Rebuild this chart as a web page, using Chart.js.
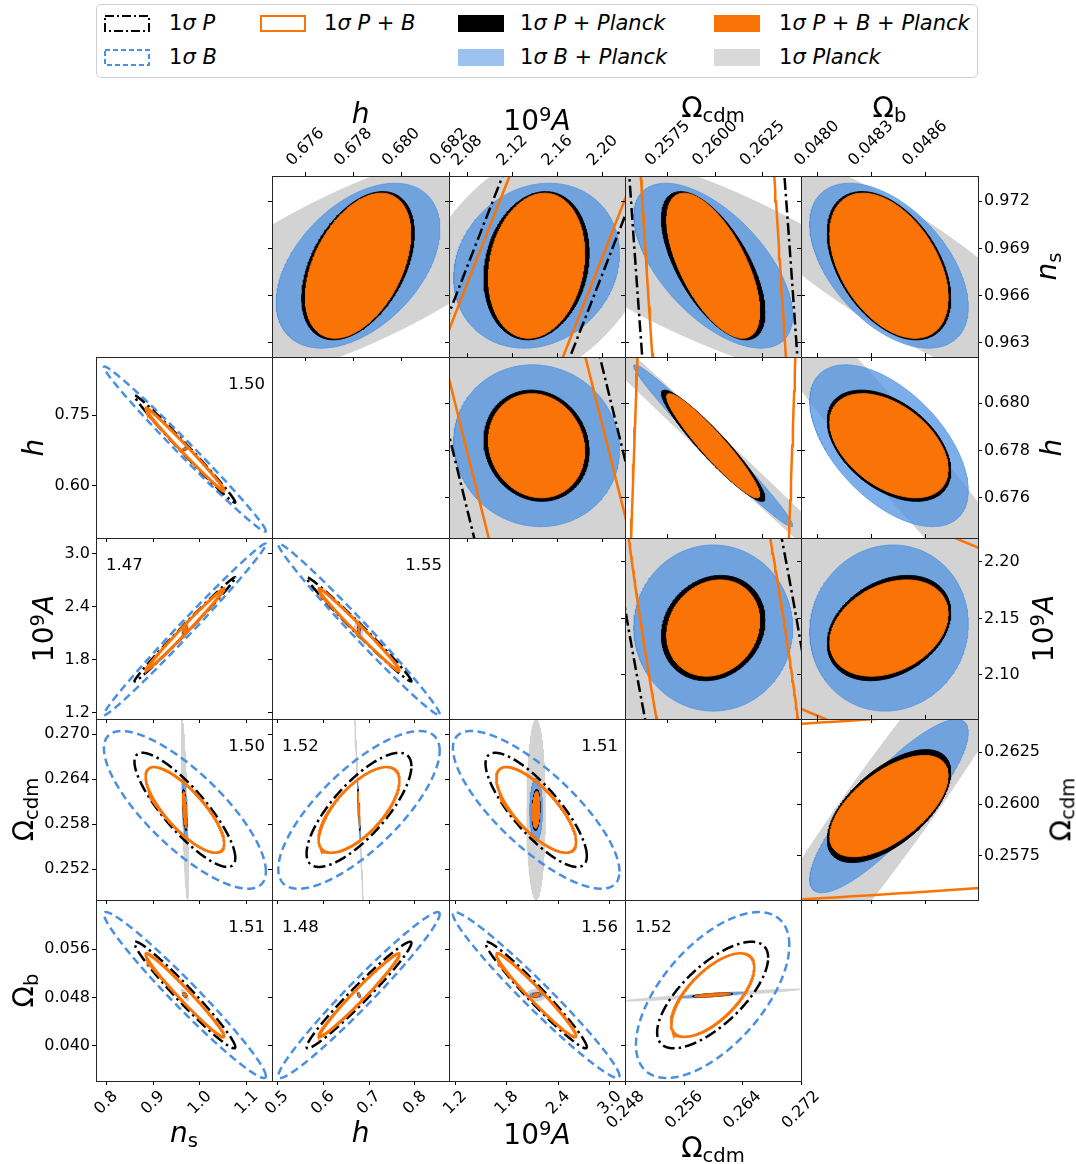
<!DOCTYPE html>
<html>
<head>
<meta charset="utf-8">
<title>Fisher forecast triangle</title>
<script src="https://cdn.jsdelivr.net/npm/chart.js@4.4.1/dist/chart.umd.min.js"></script>
<style>
  html, body { margin: 0; padding: 0; background: #fff; }
  body { width: 1076px; height: 1164px; position: relative; overflow: hidden;
         font-family: "DejaVu Sans", sans-serif; color: #000; }
  canvas.panel { position: absolute; }
  .lbl { position: absolute; left: 0; top: 0; white-space: nowrap; line-height: 1; transform-origin: 0 0; }
  .lbl sub, .lbl sup { font-size: 70%; line-height: 0; }
  .lbl sub { vertical-align: -0.22em; }
  .lbl sup { vertical-align: 0.5em; }
  #legend { position: absolute; left: 96px; top: 4px; width: 880px; height: 72px;
            border: 1px solid #cfcfcf; border-radius: 5px; background: #fff; }
  svg.sw { position: absolute; }
</style>
</head>
<body>
<div id="legend"></div>
<script>
Chart.defaults.font.family = '"DejaVu Sans", sans-serif';

// ---------------- data ----------------
// parameter order: n_s, h, 10^9 A, Omega_cdm, Omega_b
const FIDUCIAL = [0.9679, 0.6782, 2.1415, 0.2599, 0.0484];

// half-widths of the 1-sigma contours, per parameter
const SIGMA_P    = [0.1077, 0.114, 0.59, 0.0076, 0.0088];
const SIGMA_B    = [0.173, 0.1755, 0.97, 0.0105, 0.0137];
const SIGMA_PB   = [0.084, 0.088, 0.465, 0.0057, 0.0069];
const SIGMA_PL   = [0.0078, 0.009, 0.107, 0.012, 0.001];
const SIGMA_BPL  = [0.00523, 0.00342, 0.0735, 0.00419, 0.00044];
const SIGMA_PPL  = [0.0047, 0.00235, 0.0466, 0.00273, 0.000343];
const SIGMA_PBPL = [0.0046, 0.0022, 0.0426, 0.00245, 0.000328];

// correlation coefficients for each parameter pair
const PAIRS    = [[0,1],[0,2],[0,3],[0,4],[1,2],[1,3],[1,4],[2,3],[2,4],[3,4]];
const RHO_P    = [-0.993, 0.9946, -0.842, -0.975, -0.9918, 0.764, 0.975, -0.808, -0.975, 0.70];
const RHO_B    = [-0.992, 0.993, -0.78, -0.975, -0.99, 0.75, 0.975, -0.78, -0.975, 0.60];
const RHO_PB   = [-0.992, 0.9929, -0.785, -0.98, -0.9908, 0.682, 0.98, -0.747, -0.9747, 0.666];
const RHO_PL   = [0.734, 0.36, -0.74, -0.837, -0.2, -0.9968, -0.97, 0.0, 0.0, 0.958];
const RHO_BPL  = [0.45, 0.15, -0.60, -0.50, -0.05, -0.984, -0.55, 0.0, 0.05, 0.85];
const RHO_PPL  = [0.44, 0.17, -0.63, -0.44, -0.10, -0.94, -0.45, 0.15, 0.30, 0.60];
const RHO_PBPL = [0.44, 0.17, -0.63, -0.44, -0.10, -0.94, -0.45, 0.15, 0.30, 0.60];

// axis limits
const LOWER_LIMITS   = [[0.778, 1.154], [0.489, 0.874], [1.126, 3.176], [0.2479, 0.2720], [0.0342, 0.0641]];
const UPPER_X_LIMITS = [null, [0.6746, 0.6820], [2.0638, 2.2199], [0.25524, 0.26453], [0.047911, 0.048894]];
const UPPER_Y_LIMITS = [[0.96211, 0.97359], [0.6743, 0.68195], [2.061, 2.2212], [0.25536, 0.26411], null];

// tick labels
const LOWER_X_TICKS = [['0.8','0.9','1.0','1.1'], ['0.5','0.6','0.7','0.8'], ['1.2','1.8','2.4','3.0'], ['0.248','0.256','0.264','0.272'], null];
const LOWER_Y_TICKS = [null, ['0.60','0.75'], ['1.2','1.8','2.4','3.0'], ['0.252','0.258','0.264','0.270'], ['0.040','0.048','0.056']];
const UPPER_X_TICKS = [null, ['0.676','0.678','0.680','0.682'], ['2.08','2.12','2.16','2.20'], ['0.2575','0.2600','0.2625'], ['0.0480','0.0483','0.0486']];
const UPPER_Y_TICKS = [['0.963','0.966','0.969','0.972'], ['0.676','0.678','0.680'], ['2.10','2.15','2.20'], ['0.2575','0.2600','0.2625'], null];

// number printed in each lower panel: [text, row, col, corner]
const RATIO_LABELS = [['1.50',1,0,'r'], ['1.47',2,0,'l'], ['1.55',2,1,'r'], ['1.50',3,0,'r'], ['1.52',3,1,'l'],
                      ['1.51',3,2,'r'], ['1.51',4,0,'r'], ['1.48',4,1,'l'], ['1.56',4,2,'r'], ['1.52',4,3,'l']];

const PARAM_TITLES = ['<i>n</i><sub>s</sub>', '<i>h</i>', '10<sup>9</sup><i>A</i>', 'Ω<sub>cdm</sub>', 'Ω<sub>b</sub>'];

// ---------------- styling / layout ----------------
const ORANGE = '#f97306';
const BLUE = '#4a90e2';
const BLUE_FILL = 'rgba(74,144,226,0.72)';
const GRAY_FILL = '#d3d3d3';
const DASH_DOT = [12, 4, 2.5, 4];
const DASHED = [8, 4.5];

const COL_EDGES = [96, 272, 449, 625, 801, 978];
const ROW_EDGES = [176, 357, 538, 719, 900, 1081];
const M = 80;            // canvas margin around every panel (room for ticks and labels)
const TICK_FONT = 16;
const LINE_H = TICK_FONT * 1.2;

const measureCtx = document.createElement('canvas').getContext('2d');
measureCtx.font = TICK_FONT + 'px "DejaVu Sans"';
const textWidth = s => measureCtx.measureText(s).width;

function pairIndex(a, b) {
  const lo = Math.min(a, b), hi = Math.max(a, b);
  return PAIRS.findIndex(p => p[0] === lo && p[1] === hi);
}

// closed 1-sigma contour of a parameter pair (x = parameter px, y = parameter py)
function contour(px, py, sigma, rho, n) {
  const r = rho[pairIndex(px, py)];
  const sx = sigma[px], sy = sigma[py], cx = FIDUCIAL[px], cy = FIDUCIAL[py];
  const q = Math.sqrt(1 - r * r);
  const pts = [];
  for (let m = 0; m <= n; m++) {
    const t = 2 * Math.PI * m / n;
    pts.push({ x: cx + sx * Math.cos(t), y: cy + sy * (r * Math.cos(t) + q * Math.sin(t)) });
  }
  return pts;
}

function filled(pts, color) {
  return { data: pts, showLine: true, fill: 'shape', backgroundColor: color, borderColor: color,
           borderWidth: 1, pointRadius: 0, clip: 0, xAxisID: 'x', yAxisID: 'y' };
}
function outline(pts, color, width, dash) {
  return { data: pts, showLine: true, fill: false, borderColor: color, borderWidth: width, borderDash: dash,
           borderCapStyle: 'butt', pointRadius: 0, clip: 0, xAxisID: 'x', yAxisID: 'y' };
}

function buildAxis(pos, lim, tickLabels, drawMarks, showText, rotation) {
  const horizontal = pos === 'top' || pos === 'bottom';
  const labels = tickLabels || [];
  const vals = labels.map(Number);
  let labelOffset = 0;
  if (showText && rotation && labels.length) {
    const w = textWidth(labels[0]);
    labelOffset = pos === 'top' ? -0.354 * (w - 2 * LINE_H) : 0.354 * w;
  }
  return {
    type: 'linear', position: pos, min: lim[0], max: lim[1], bounds: 'data',
    afterBuildTicks: s => {
      s.ticks = vals.filter(v => v >= lim[0] - 1e-9 && v <= lim[1] + 1e-9).map(v => ({ value: v }));
    },
    afterFit: s => {
      if (horizontal) s.height = M; else s.width = M;
      s.paddingTop = s.paddingBottom = s.paddingLeft = s.paddingRight = 0;
    },
    grid: { display: true, drawOnChartArea: false, drawTicks: drawMarks, tickLength: 4, tickWidth: 1, tickColor: '#000' },
    border: { display: true, color: '#262626', width: 1, z: 1 },
    ticks: {
      display: showText, autoSkip: false, padding: 2, color: '#000', font: { size: TICK_FONT },
      minRotation: rotation, maxRotation: rotation, labelOffset,
      callback: v => { const k = vals.findIndex(u => Math.abs(u - v) < 1e-9); return k >= 0 ? labels[k] : ''; }
    }
  };
}

function makeChart(i, j, datasets, scales) {
  const x0 = COL_EDGES[j], x1 = COL_EDGES[j + 1], y0 = ROW_EDGES[i], y1 = ROW_EDGES[i + 1];
  const cv = document.createElement('canvas');
  cv.className = 'panel';
  cv.width = x1 - x0 + 2 * M;
  cv.height = y1 - y0 + 2 * M;
  cv.style.left = (x0 - M) + 'px';
  cv.style.top = (y0 - M) + 'px';
  document.body.appendChild(cv);
  new Chart(cv, {
    type: 'scatter',
    data: { datasets },
    options: {
      responsive: false, animation: false, devicePixelRatio: 1, events: [],
      layout: { padding: 0 },
      plugins: { legend: { display: false }, tooltip: { enabled: false } },
      scales
    }
  });
}

function contourPanel(i, j) {
  const lower = i > j;
  const px = j, py = i;
  const ds = [
    filled(contour(px, py, SIGMA_PL, RHO_PL, 360), GRAY_FILL),
    filled(contour(px, py, SIGMA_BPL, RHO_BPL, 360), BLUE_FILL),
    filled(contour(px, py, SIGMA_PPL, RHO_PPL, 360), '#000000'),
    filled(contour(px, py, SIGMA_PBPL, RHO_PBPL, 360), ORANGE)
  ];
  if (lower) ds.push(outline(contour(px, py, SIGMA_B, RHO_B, 720), BLUE, 2.5, DASHED));
  ds.push(outline(contour(px, py, SIGMA_P, RHO_P, 720), '#000000', 2.5, DASH_DOT));
  ds.push(outline(contour(px, py, SIGMA_PB, RHO_PB, 720), ORANGE, 2.5, []));
  ds.reverse();   // the first dataset is painted last (on top)

  let scales;
  if (lower) {
    scales = {
      x:  buildAxis('bottom', LOWER_LIMITS[j], LOWER_X_TICKS[j], true, i === 4, 45),
      x2: buildAxis('top', LOWER_LIMITS[j], [], false, false, 0),
      y:  buildAxis('left', LOWER_LIMITS[i], LOWER_Y_TICKS[i], true, j === 0, 0),
      y2: buildAxis('right', LOWER_LIMITS[i], [], false, false, 0)
    };
  } else {
    scales = {
      x:  buildAxis('bottom', UPPER_X_LIMITS[j], UPPER_X_TICKS[j], true, false, 0),
      x2: buildAxis('top', UPPER_X_LIMITS[j], UPPER_X_TICKS[j], true, i === 0, 45),
      y:  buildAxis('left', UPPER_Y_LIMITS[i], UPPER_Y_TICKS[i], true, false, 0),
      y2: buildAxis('right', UPPER_Y_LIMITS[i], UPPER_Y_TICKS[i], true, j === 4, 0)
    };
  }
  makeChart(i, j, ds, scales);
}

function emptyPanel(i) {
  const lim = [0, 1];
  makeChart(i, i, [], {
    x:  buildAxis('bottom', lim, [], false, false, 0),
    x2: buildAxis('top', lim, [], false, false, 0),
    y:  buildAxis('left', lim, [], false, false, 0),
    y2: buildAxis('right', lim, [], false, false, 0)
  });
}

for (let i = 0; i < 5; i++) {
  for (let j = 0; j < 5; j++) {
    if (i === j) { if (i >= 1 && i <= 3) emptyPanel(i); continue; }
    contourPanel(i, j);
  }
}

// ---------------- text ----------------
// (x, y) is the baseline anchor; rotated labels read bottom-to-top
function addLabel(html, x, y, size, align, rotate, parent) {
  const d = document.createElement('div');
  d.className = 'lbl';
  d.style.fontSize = size + 'px';
  d.innerHTML = html;
  const asc = 0.846 * size;
  const ax = align === 'left' ? '0%' : align === 'right' ? '-100%' : '-50%';
  d.style.transform = `translate(${x}px, ${y}px)` + (rotate ? ' rotate(-90deg)' : '') + ` translate(${ax}, ${-asc}px)`;
  (parent || document.body).appendChild(d);
}

const TITLE_SIZE = 28;
// top titles (columns h, A, cdm, b)
[[1, 124], [2, 131], [3, 118], [4, 118]].forEach(([k, by]) =>
  addLabel(PARAM_TITLES[k], (COL_EDGES[k] + COL_EDGES[k + 1]) / 2, by, TITLE_SIZE, 'center', false));
// bottom titles (columns ns, h, A, cdm)
[[0, 1143], [1, 1143], [2, 1145], [3, 1158]].forEach(([k, by]) =>
  addLabel(PARAM_TITLES[k], (COL_EDGES[k] + COL_EDGES[k + 1]) / 2, by, TITLE_SIZE, 'center', false));
// left titles (rows h, A, cdm, b)
[[1, 44], [2, 54], [3, 34], [4, 34]].forEach(([k, bx]) =>
  addLabel(PARAM_TITLES[k], bx, (ROW_EDGES[k] + ROW_EDGES[k + 1]) / 2, TITLE_SIZE, 'center', true));
// right titles (rows ns, h, A, cdm)
[[0, 1057], [1, 1062], [2, 1054], [3, 1071]].forEach(([k, bx]) =>
  addLabel(PARAM_TITLES[k], bx, (ROW_EDGES[k] + ROW_EDGES[k + 1]) / 2, TITLE_SIZE, 'center', true));

RATIO_LABELS.forEach(([txt, r, c, side]) => {
  const top = ROW_EDGES[r] + 33;
  if (side === 'r') addLabel(txt, COL_EDGES[c + 1] - 7, top, 16.5, 'right', false);
  else addLabel(txt, COL_EDGES[c] + 10, top, 16.5, 'left', false);
});

// ---------------- legend ----------------
const LEGEND_ITEMS = [
  { html: '1<i>σ</i> <i>P</i>', col: 0, row: 0, kind: 'dashdot' },
  { html: '1<i>σ</i> <i>B</i>', col: 0, row: 1, kind: 'dashed' },
  { html: '1<i>σ</i> <i>P</i> + <i>B</i>', col: 1, row: 0, kind: 'line' },
  { html: '1<i>σ</i> <i>P</i> + <i>Planck</i>', col: 2, row: 0, kind: 'black' },
  { html: '1<i>σ</i> <i>B</i> + <i>Planck</i>', col: 2, row: 1, kind: 'blue' },
  { html: '1<i>σ</i> <i>P</i> + <i>B</i> + <i>Planck</i>', col: 3, row: 0, kind: 'orange' },
  { html: '1<i>σ</i> <i>Planck</i>', col: 3, row: 1, kind: 'gray' }
];
const legend = document.getElementById('legend');
const SW_X = [7, 163, 361, 617], TX_X = [72, 227, 423, 682], ROW_MID = [18.5, 52];
LEGEND_ITEMS.forEach(it => {
  const x = SW_X[it.col], y = ROW_MID[it.row] - 8.5;
  let rect;
  if (it.kind === 'dashdot') rect = `<rect x="1" y="1" width="44" height="15" fill="none" stroke="#000" stroke-width="2" stroke-dasharray="9 3 2 3"/>`;
  else if (it.kind === 'dashed') rect = `<rect x="1" y="1" width="44" height="15" fill="none" stroke="${BLUE}" stroke-width="2" stroke-dasharray="5 3"/>`;
  else if (it.kind === 'line') rect = `<rect x="1" y="1" width="44" height="15" fill="none" stroke="${ORANGE}" stroke-width="2"/>`;
  else {
    const f = { black: '#000', blue: 'rgba(74,144,226,0.55)', orange: ORANGE, gray: '#d9d9d9' }[it.kind];
    rect = `<rect x="0" y="0" width="46" height="17" fill="${f}"/>`;
  }
  legend.insertAdjacentHTML('beforeend',
    `<svg class="sw" width="46" height="17" style="left:${x}px;top:${y}px">${rect}</svg>`);
  addLabel(it.html, TX_X[it.col], ROW_MID[it.row] + 7.6, 21, 'left', false, legend);
});
</script>
</body>
</html>
